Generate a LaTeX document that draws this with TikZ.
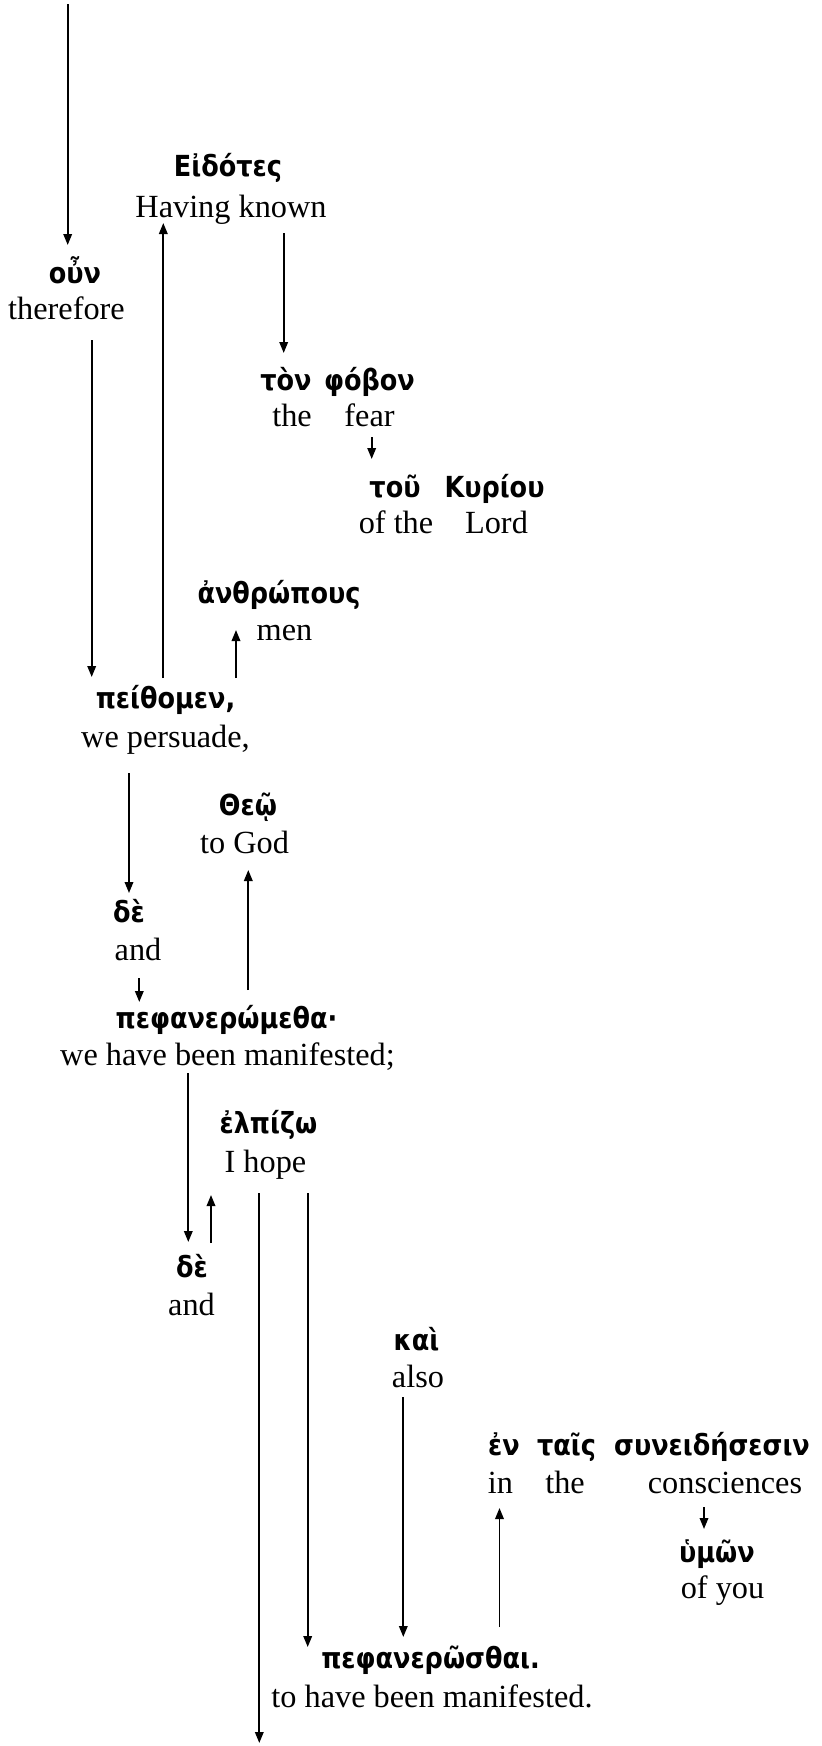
\documentclass[tikz,border=0pt]{standalone}
\usepackage{fontspec}
\setmainfont{Liberation Serif}
\newfontfamily\grkfont{DejaVu Sans}[FakeStretch=0.88]
\usetikzlibrary{arrows.meta,calc}
\tikzset{
  en/.style={inner sep=0pt, anchor=base, font=\fontsize{32.3}{36}\selectfont},
  gr/.style={inner sep=0pt, anchor=base, font=\grkfont\bfseries\fontsize{29}{33}\selectfont},
  arr/.style={line width=1.8pt, -{Triangle[length=11pt,width=8.5pt]}},
}
\begin{document}
\begin{tikzpicture}[x=1pt,y=-1pt]
\useasboundingbox (0,0) rectangle (822,1746);
% Greek / English pairs
\node[gr] (g1) at (228,176.7) {Εἰδότες};
\node[en] (e1) at (231,217.7) {Having known};
\node[gr] (g2) at (75,283) {οὖν};
\node[en] (e2) at (66.5,319.5) {therefore};
\node[gr] (g3a) at (286,390) {τὸν};
\node[gr] (g3b) at (369.5,390) {φόβον};
\node[en] (e3a) at (292,426) {the};
\node[en] (e3b) at (369.5,426) {fear};
\node[gr] (g4a) at (395,497) {τοῦ};
\node[gr] (g4b) at (494.5,497) {Κυρίου};
\node[en] (e4a) at (396,533) {of the};
\node[en] (e4b) at (496.5,533) {Lord};
\node[gr] (g5) at (279,603) {ἀνθρώπους};
\node[en] (e5) at (284.5,640) {men};
\node[gr] (g6) at (165.5,708) {πείθομεν,};
\node[en] (e6) at (165.5,747) {we persuade,};
\node[gr] (g7) at (248,815) {Θεῷ};
\node[en] (e7) at (244.5,853) {to God};
\node[gr] (g8) at (129,922) {δὲ};
\node[en] (e8) at (138,960) {and};
\node[gr] (g9) at (226.5,1028) {πεφανερώμεθα·};
\node[en] (e9) at (227.5,1065) {we have been manifested;};
\node[gr] (g10) at (268.5,1133) {ἐλπίζω};
\node[en] (e10) at (265.5,1172) {I hope};
\node[gr] (g11) at (192,1277) {δὲ};
\node[en] (e11) at (191.5,1315) {and};
\node[gr] (g12) at (416.5,1350) {καὶ};
\node[en] (e12) at (418,1387) {also};
\node[gr] (g13a) at (504,1455) {ἐν};
\node[gr] (g13b) at (566.5,1455) {ταῖς};
\node[gr] (g13c) at (712,1455) {συνειδήσεσιν};
\node[en] (e13a) at (500.5,1493) {in};
\node[en] (e13b) at (565,1493) {the};
\node[en] (e13c) at (725,1493) {consciences};
\node[gr] (g14) at (717,1562) {ὑμῶν};
\node[en] (e14) at (722.5,1598) {of you};
\node[gr] (g15) at (430.5,1668) {πεφανερῶσθαι.};
\node[en] (e15) at (432,1707) {to have been manifested.};
\coordinate (top) at (67.7,4);
\coordinate (bottom) at (259.3,1743);
% connectors
\draw[arr] (top) -- ($(g2.base)+(-7.3,-38)$);
\draw[arr] ($(e2.base)+(25.2,20.5)$) -- ($(g6.base)+(-73.8,-31)$);
\draw[arr] ($(g6.base)+(-2.2,-30)$) -- ($(e1.base)+(-67.7,5.3)$);
\draw[arr] ($(e1.base)+(52.7,15.3)$) -- ($(g3a.base)+(-2.3,-37)$);
\draw[arr] ($(e3b.base)+(2.2,11)$) -- ($(g4a.base)+(-23.3,-38)$);
\draw[arr] ($(g6.base)+(70.5,-30)$) -- ($(e5.base)+(-48.5,-10)$);
\draw[arr] ($(e6.base)+(-36.5,26)$) -- ($(g8.base)+(0,-29)$);
\draw[arr] ($(e8.base)+(1.3,18)$) -- ($(g9.base)+(-87.2,-26)$);
\draw[arr] ($(g9.base)+(21.8,-38)$) -- ($(e7.base)+(3.8,17)$);
\draw[arr] ($(e9.base)+(-39.2,8)$) -- ($(g11.base)+(-3.7,-35)$);
\draw[arr] ($(g11.base)+(19,-34)$) -- ($(e10.base)+(-54.5,23)$);
\draw[arr] ($(e10.base)+(-6.2,21)$) -- (bottom);
\draw[arr] ($(e10.base)+(42.2,21)$) -- ($(g15.base)+(-122.8,-21)$);
\draw[arr] ($(e12.base)+(-14.7,10)$) -- ($(g15.base)+(-27.2,-31)$);
\draw[arr] ($(g15.base)+(69,-41)$) -- ($(e13a.base)+(-1,15)$);
\draw[arr] ($(e13c.base)+(-21,14)$) -- ($(g14.base)+(-13,-33)$);
\end{tikzpicture}
\end{document}
